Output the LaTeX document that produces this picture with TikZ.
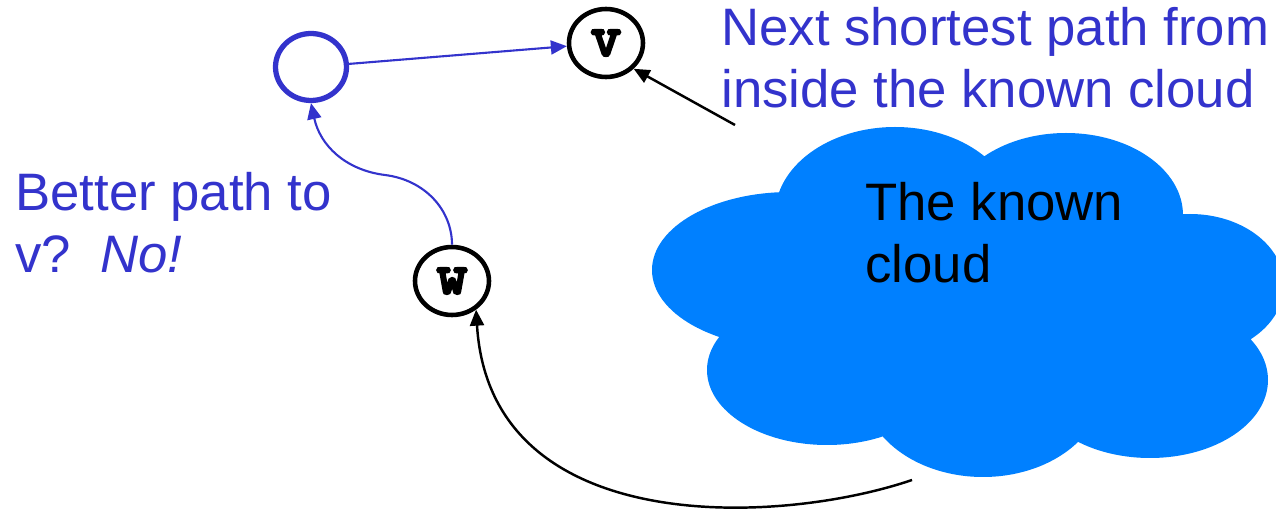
\documentclass[tikz,border=0pt]{standalone}
\usepackage{fontspec}
\setmainfont{Liberation Sans}
\newfontfamily\nodefont{lmmono10-regular.otf}[FakeBold=5]
\usetikzlibrary{arrows.meta,shapes.geometric}
\definecolor{textblue}{RGB}{51,51,204}
\definecolor{cloudblue}{RGB}{0,128,255}
\tikzset{
  vertex/.style={draw=black, line width=2.6pt, ellipse, minimum width=1.48cm,
    minimum height=1.36cm, inner sep=0pt, font=\nodefont\fontsize{33}{33}\selectfont},
  bluevertex/.style={draw=textblue, line width=3pt, ellipse, minimum width=1.42cm,
    minimum height=1.34cm, inner sep=0pt},
  label/.style={anchor=base west, align=left, inner sep=0pt,
    font=\fontsize{30}{35.3}\selectfont},
  tip/.style={-{Triangle[length=0.32cm,width=0.28cm]}},
  bluelink/.style={tip, draw=textblue, line width=1.2pt},
  blacklink/.style={tip, draw=black, line width=1.4pt},
}
\begin{document}
\begin{tikzpicture}[x=0.02cm, y=-0.02cm]
\useasboundingbox (0,0) rectangle (1276,513);

% the known cloud, built from overlapping lobes
\begin{scope}
  \clip (0,0) rectangle (1276,513);
  \fill[cloudblue]
    (790,270) ellipse [x radius=138, y radius=78]   % left
    (895,215) ellipse [x radius=120, y radius=88]   % top left
    (1066,215) ellipse [x radius=117, y radius=82]  % top right
    (1190,285) ellipse [x radius=94, y radius=71]   % right
    (1150,380) ellipse [x radius=118, y radius=78]  % bottom right
    (983,387) ellipse [x radius=120, y radius=90]   % bottom
    (827,370) ellipse [x radius=120, y radius=75]   % bottom left
    (980,300) ellipse [x radius=200, y radius=110]; % body
\end{scope}

% vertices
\node[bluevertex] (u) at (311,67) {};
\node[vertex] (v) at (606,43) {v};
\node[vertex] (w) at (452,281) {w};

% loose ends of the connectors
\coordinate (cloudtop) at (735,125);
\coordinate (cloudbottom) at (912,480);

% connectors
\draw[bluelink] (u) -- (v);
\draw[bluelink] (w.north) .. controls (452,210) and (425,180) .. (385,175)
  .. controls (345,170) and (320,145) .. (u.south);
\draw[blacklink] (cloudtop) -- (v.-43);
\draw[blacklink] (cloudbottom) .. controls (780,525) and (490,540) .. (w.-50);

% labels (anchored at the baseline of the last line)
\node[label, text=textblue] (next) at (721,108) {Next shortest path from\\inside the known cloud};
\node[label, text=textblue] (better) at (15,273) {Better path to\\v?\ \ \textit{No!}};
\node[label, text=black] (known) at (865,283) {The known\\cloud};
\end{tikzpicture}
\end{document}
